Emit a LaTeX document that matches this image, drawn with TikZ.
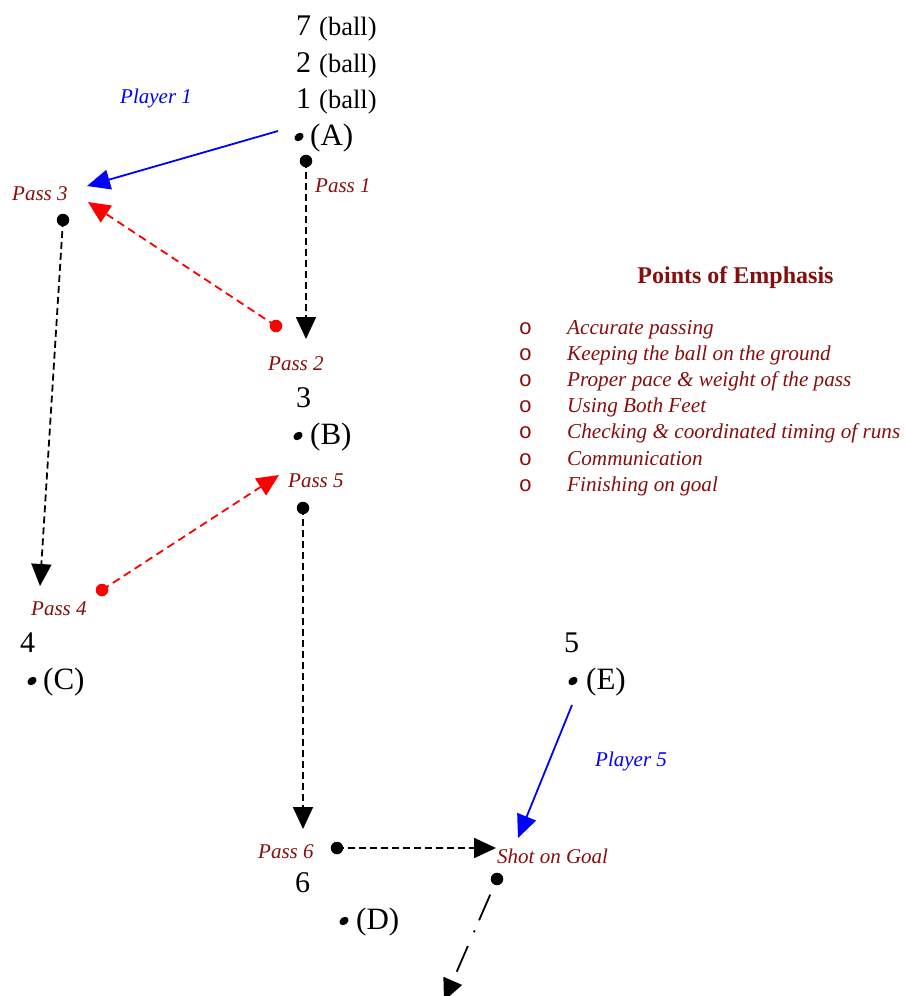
\documentclass[tikz,border=0pt]{standalone}
\usepackage{fontspec}
\setmainfont{Liberation Serif}
\newfontfamily\bulletfont{Liberation Mono}
\usetikzlibrary{arrows.meta,shapes.geometric}
\definecolor{labred}{RGB}{134,14,14}
\definecolor{pblue}{RGB}{0,0,255}
\definecolor{pred}{RGB}{255,0,0}
\begin{document}
\begin{tikzpicture}[x=1pt,y=-1pt,
  big/.style={font=\fontsize{30}{30}\selectfont, anchor=base west, inner sep=0pt},
  balltxt/.style={font=\fontsize{26.5}{26.5}\selectfont, anchor=base west, inner sep=0pt},
  postxt/.style={font=\fontsize{31}{31}\selectfont, anchor=base west, inner sep=0pt},
  lbl/.style={font=\fontsize{21}{21}\selectfont\itshape, text=labred, anchor=base west, inner sep=0pt},
  plbl/.style={lbl, text=pblue},
  title/.style={font=\fontsize{24}{24}\selectfont\bfseries, text=labred, anchor=base, inner sep=0pt},
  itemtxt/.style={font=\fontsize{21.2}{21.2}\selectfont\itshape, text=labred, anchor=base west, inner sep=0pt},
  itembul/.style={font=\fontsize{22}{22}\bulletfont, text=labred, anchor=base, inner sep=0pt},
  bul/.style={ellipse, fill=black, minimum width=10pt, minimum height=7.5pt, inner sep=0pt, rotate=35},
  dotb/.style={circle, fill=black, minimum size=12.5pt, inner sep=0pt},
  dotr/.style={dotb, fill=pred},
  passln/.style={line width=1.8pt, dash pattern=on 7pt off 4pt, -{Triangle[length=22pt,width=20pt]}},
  rpassln/.style={line width=1.8pt, draw=pred, dash pattern=on 8pt off 5pt, -{Triangle[length=22pt,width=20pt]}},
  runln/.style={line width=1.8pt, draw=pblue, -{Triangle[length=23pt,width=20pt]}},
  shotln/.style={line width=1.8pt, dash pattern=on 2pt off 15pt on 28pt off 11pt, -{Triangle[length=22pt,width=20pt]}}
]
\useasboundingbox (0,0) rectangle (905,996);

% stacked labels at A
\node[big] (n7) at (296,35) {7};
\node[balltxt] (b7) at (319,35) {(ball)};
\node[big] (n2) at (296,72) {2};
\node[balltxt] (b2) at (319,72) {(ball)};
\node[big] (n1) at (296,108) {1};
\node[balltxt] (b1) at (319,108) {(ball)};
\node[bul] (pA) at (299,137) {};
\node[postxt] (A) at (310,145) {(A)};

% B
\node[big] (n3) at (296,407) {3};
\node[bul] (pB) at (298,436) {};
\node[postxt] (B) at (310,444) {(B)};

% C
\node[big] (n4) at (20,652) {4};
\node[bul] (pC) at (32,681) {};
\node[postxt] (C) at (43,689) {(C)};

% E
\node[big] (n5) at (564,652) {5};
\node[bul] (pE) at (573,681) {};
\node[postxt] (E) at (586,689) {(E)};

% D
\node[big] (n6) at (295,892) {6};
\node[bul] (pD) at (344,921) {};
\node[postxt] (D) at (356,929) {(D)};

% labels
\node[plbl] (pl1) at (120,103) {Player 1};
\node[lbl] (ps1) at (315,192) {Pass 1};
\node[lbl] (ps3) at (12,200) {Pass 3};
\node[lbl] (ps2) at (268,370) {Pass 2};
\node[lbl] (ps5) at (288,487) {Pass 5};
\node[lbl] (ps4) at (31,615) {Pass 4};
\node[plbl] (pl5) at (595,766) {Player 5};
\node[lbl] (ps6) at (258,858) {Pass 6};
\node[lbl] (shot) at (497,863) {Shot on Goal};

% points of emphasis
\node[title] (ttl) at (735.5,283) {Points of Emphasis};
\foreach \t [count=\i] in {Accurate passing,Keeping the ball on the ground,Proper pace \& weight of the pass,Using Both Feet,Checking \& coordinated timing of runs,Communication,Finishing on goal}{
  \node[itembul] (ib\i) at (525.5,{334+26.2*(\i-1)}) {o};
  \node[itemtxt] (it\i) at (567,{334+26.2*(\i-1)}) {\t};
}

% start dots
\node[dotb] (d1) at (306,161) {};
\node[dotr] (d2) at (276,326) {};
\node[dotb] (d3) at (63,220) {};
\node[dotr] (d4) at (102,590) {};
\node[dotb] (d5) at (303,508) {};
\node[dotb] (d6) at (337,848) {};
\node[dotb] (d7) at (497,879) {};

% free ends
\coordinate (s1) at (278,131);
\coordinate (s2) at (572,705);
\coordinate (t1) at (306,339);
\coordinate (t2) at (87,186);
\coordinate (t3) at (88,202);
\coordinate (t4) at (40,586);
\coordinate (t5) at (279,475);
\coordinate (t6) at (303,829);
\coordinate (t7) at (518,838);
\coordinate (t8) at (496,848);
\coordinate (t9) at (444,1001);

% connectors
\draw[passln] (d1.center) -- (t1);
\draw[runln] (s1) -- (t2);
\draw[rpassln] (d2.center) -- (t3);
\draw[passln] (d3.center) -- (t4);
\draw[rpassln] (d4.center) -- (t5);
\draw[passln] (d5.center) -- (t6);
\draw[runln] (s2) -- (t7);
\draw[passln] (d6.center) -- (t8);
\draw[shotln] (d7.center) -- (t9);
\end{tikzpicture}
\end{document}
